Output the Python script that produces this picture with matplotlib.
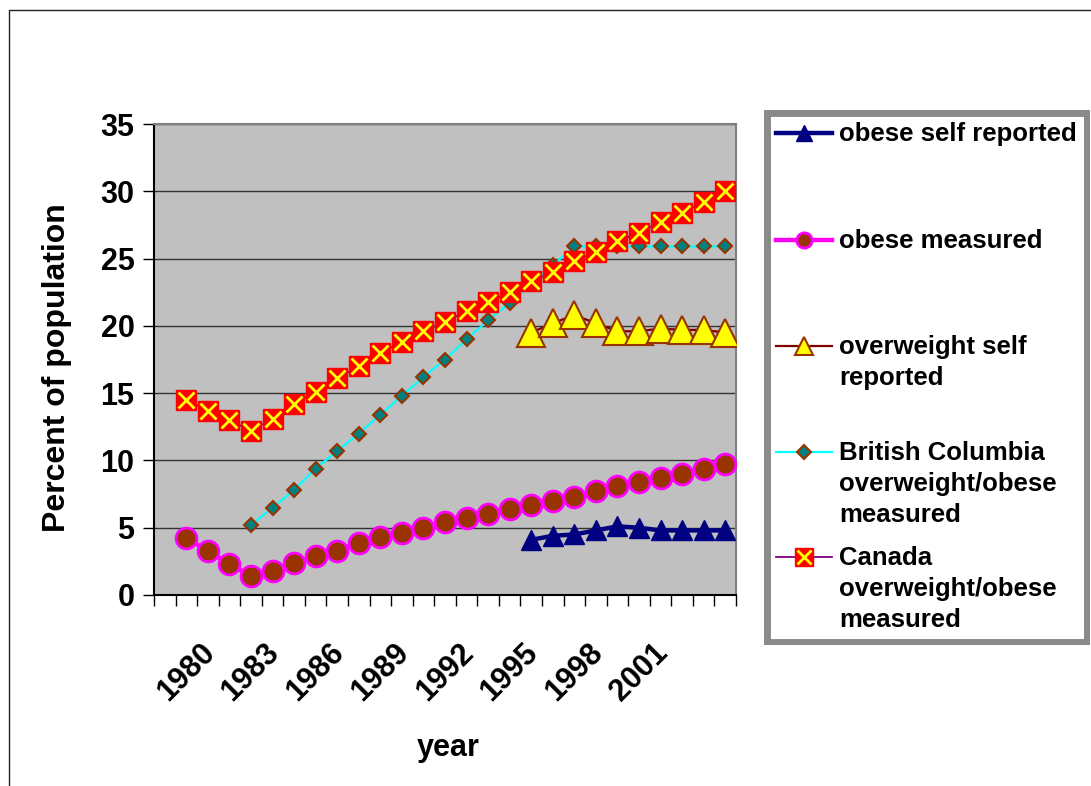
import numpy as np
import matplotlib
matplotlib.use("Agg")
import matplotlib.pyplot as plt
from matplotlib.lines import Line2D
from matplotlib.patches import Rectangle

plt.rcParams['font.family'] = ['Liberation Sans', 'DejaVu Sans']
plt.rcParams['font.weight'] = 'bold'

# categories on the x axis (first one has no data)
years = list(range(1979, 2006))
tick_years = [1980, 1983, 1986, 1989, 1992, 1995, 1998, 2001]

# series
obese_self_years = list(range(1996, 2006))
obese_self = [4.1, 4.4, 4.5, 4.8, 5.1, 5.0, 4.8, 4.8, 4.8, 4.8]

obese_meas_years = list(range(1980, 2006))
obese_meas = [4.2, 3.3, 2.3, 1.4, 1.8, 2.4, 2.9, 3.3, 3.9, 4.3, 4.6, 5.0, 5.4,
              5.7, 6.0, 6.4, 6.7, 7.0, 7.3, 7.7, 8.1, 8.4, 8.7, 9.0, 9.4, 9.7]

over_self_years = list(range(1996, 2006))
over_self = [19.5, 20.2, 20.8, 20.2, 19.6, 19.6, 19.8, 19.7, 19.7, 19.5]

bc_years = list(range(1983, 2006))
bc = [5.2, 6.5, 7.8, 9.4, 10.7, 12.0, 13.4, 14.8, 16.2, 17.5, 19.0, 20.4,
      21.7, 23.1, 24.5, 25.9, 25.9, 25.9, 25.9, 25.9, 25.9, 25.9, 25.9]

canada_years = list(range(1980, 2006))
canada = [14.5, 13.7, 13.0, 12.2, 13.1, 14.2, 15.1, 16.1, 17.0, 18.0, 18.8,
          19.6, 20.3, 21.1, 21.8, 22.5, 23.3, 24.0, 24.8, 25.5, 26.3, 26.9,
          27.7, 28.4, 29.2, 30.0]

labels = ['obese self reported', 'obese measured', 'overweight self\nreported',
          'British Columbia\noverweight/obese\nmeasured',
          'Canada\noverweight/obese\nmeasured']

W, H = 1091, 786
fig = plt.figure(figsize=(W / 100, H / 100), dpi=100)

# outer chart frame (only left and top edges visible)
fig.add_artist(Line2D([9 / W, 9 / W, 1.0], [0.0, 1 - 10 / H, 1 - 10 / H],
                      color='#222222', lw=1.0))

ax = fig.add_axes([154 / W, 1 - 595 / H, (736 - 154) / W, (595 - 124) / H])
ax.set_facecolor('#C0C0C0')

ax.plot(obese_self_years, obese_self, color='#000080', lw=3.2, marker='^',
        ms=15, mfc='#000080', mec='#000080', zorder=3)
ax.plot(obese_meas_years, obese_meas, color='#FF00FF', lw=3.2, marker='o',
        ms=15, mfc='#993300', mec='#FF00FF', mew=2, zorder=4)
ax.plot(over_self_years, over_self, color='#800000', lw=1.6, marker='^',
        ms=20, mfc='#FFFF00', mec='#993300', mew=1.5, zorder=5)
ax.plot(bc_years, bc, color='#00FFFF', lw=1.6, marker='D', ms=7.5,
        mfc='#008080', mec='#993300', mew=1.5, zorder=6)
ax.plot(canada_years, canada, color='#800080', lw=1.3, marker='s', ms=14,
        mfc='#FF0000', mec='#FF0000', zorder=7)
ax.plot(canada_years, canada, ls='none', marker='x', ms=11, mec='#FFFF00',
        mew=2, zorder=8)

ax.set_xlim(years[0] - 0.5, years[-1] + 0.5)
ax.set_ylim(0, 35)
ax.set_yticks(range(0, 36, 5))
ax.yaxis.grid(True, color='#333333', lw=1.0)
ax.set_axisbelow(True)

ax.set_xticks(tick_years)
ax.set_xticklabels([str(y) for y in tick_years], rotation=45, ha='center',
                   va='top', fontsize=22, fontweight='bold')
ax.set_xticks(np.arange(years[0] - 0.5, years[-1] + 1), minor=True)
ax.tick_params(axis='x', which='major', length=0, pad=31)
ax.tick_params(axis='x', which='minor', length=8, direction='out', width=1)
ax.tick_params(axis='y', length=8, direction='out', width=1, labelsize=22,
               pad=6)
for t in ax.get_yticklabels():
    t.set_fontweight('bold')

for s in ['left', 'bottom']:
    ax.spines[s].set_color('black')
    ax.spines[s].set_linewidth(1.5)
for s in ['top', 'right']:
    ax.spines[s].set_color('#808080')
    ax.spines[s].set_linewidth(1.5)

ax.set_xlabel('year', fontsize=22, fontweight='bold')
ax.xaxis.set_label_coords(0.505, -0.293)
ax.set_ylabel('Percent of population', fontsize=23, fontweight='bold')
ax.yaxis.set_label_coords(-0.141, 0.482)

# legend box drawn by hand to keep Excel's layout
lax = fig.add_axes([764 / W, 1 - 645 / H, (1090 - 764) / W, (645 - 110) / H])
lax.set_xlim(764, 1090)
lax.set_ylim(645, 110)
lax.axis('off')
lax.add_patch(Rectangle((767, 113), 320, 529, fc='white', ec='#8a8a8a',
                        lw=5))

styles = [
    dict(color='#000080', lw=3.2, marker='^', ms=12, mfc='#000080',
         mec='#000080'),
    dict(color='#FF00FF', lw=3.2, marker='o', ms=11, mfc='#993300',
         mec='#FF00FF', mew=2),
    dict(color='#800000', lw=1.6, marker='^', ms=13, mfc='#FFFF00',
         mec='#993300', mew=1.5),
    dict(color='#00FFFF', lw=1.6, marker='D', ms=7, mfc='#008080',
         mec='#993300', mew=1.5),
    dict(color='#800080', lw=1.3, marker='s', ms=13, mfc='#FF0000',
         mec='#FF0000'),
]
rows = [133, 240, 346, 452, 557]
for y, st, lab in zip(rows, styles, labels):
    lax.plot([776, 832], [y, y], **st, markevery=[], clip_on=False)
    lax.plot([804], [y], ls='none', **{k: v for k, v in st.items()
                                       if k not in ('color', 'lw')},
             clip_on=False)
    lax.text(839, y - 11, lab, fontsize=18.5, fontweight='bold', va='top',
             ha='left', linespacing=1.38)
lax.plot([804], [557], ls='none', marker='x', ms=10, mec='#FFFF00', mew=2)

fig.savefig('out.png', dpi=100)
